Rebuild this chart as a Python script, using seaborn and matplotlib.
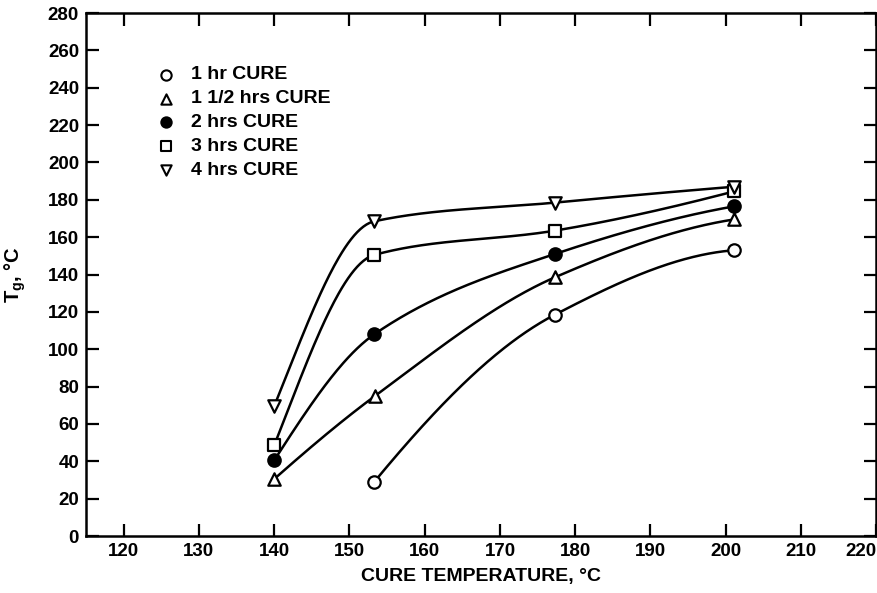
import numpy as np
import seaborn as sns
import matplotlib.pyplot as plt
from matplotlib import font_manager

# =====================================================================
# DATA
# =====================================================================
SERIES = ["1 hr CURE", "1 1/2 hrs CURE", "2 hrs CURE", "3 hrs CURE", "4 hrs CURE"]

temp_1hr = [153.3, 177.3, 201.1]
tg_1hr = [29, 118.5, 153]

temp_15hr = [140, 153.4, 177.3, 201.1]
tg_15hr = [30.5, 75, 138.5, 169.5]

temp_2hr = [140, 153.3, 177.3, 201.1]
tg_2hr = [40.5, 108, 151, 176.5]

temp_3hr = [140, 153.3, 177.3, 201.1]
tg_3hr = [48.5, 150.5, 163.5, 184.5]

temp_4hr = [140, 153.3, 177.3, 201.1]
tg_4hr = [69.5, 168.5, 178.5, 187]

X_TICKS = list(range(120, 221, 10))
Y_TICKS = list(range(0, 281, 20))

# marker style per series: (marker, filled)
MARKERS = [("o", False), ("^", False), ("o", True), ("s", False), ("v", False)]


def smooth_curve(x, y, n=300):
    """Monotone cubic Hermite curve through the points (French-curve look)."""
    x = np.asarray(x, float)
    y = np.asarray(y, float)
    h = np.diff(x)
    d = np.diff(y) / h
    m = np.zeros_like(y)
    for k in range(1, len(x) - 1):
        if d[k - 1] * d[k] <= 0:
            m[k] = 0
        else:
            w1 = 2 * h[k] + h[k - 1]
            w2 = h[k] + 2 * h[k - 1]
            m[k] = (w1 + w2) / (w1 / d[k - 1] + w2 / d[k])

    def end_slope(h0, h1, d0, d1):
        s = ((2 * h0 + h1) * d0 - h0 * d1) / (h0 + h1)
        if np.sign(s) != np.sign(d0):
            return 0.0
        if np.sign(d0) != np.sign(d1) and abs(s) > abs(3 * d0):
            return 3 * d0
        return s

    m[0] = end_slope(h[0], h[1], d[0], d[1])
    m[-1] = end_slope(h[-1], h[-2], d[-1], d[-2])

    xs = np.linspace(x[0], x[-1], n)
    idx = np.clip(np.searchsorted(x, xs) - 1, 0, len(h) - 1)
    t = (xs - x[idx]) / h[idx]
    h00 = 2 * t**3 - 3 * t**2 + 1
    h10 = t**3 - 2 * t**2 + t
    h01 = -2 * t**3 + 3 * t**2
    h11 = t**3 - t**2
    ys = h00 * y[idx] + h10 * h[idx] * m[idx] + h01 * y[idx + 1] + h11 * h[idx] * m[idx + 1]
    return xs, ys


# =====================================================================
# PLOT
# =====================================================================
sns.set_theme(style="ticks")
installed = {f.name for f in font_manager.fontManager.ttflist}
FONT = "Liberation Sans Narrow" if "Liberation Sans Narrow" in installed else "Liberation Sans"
plt.rcParams["font.family"] = [FONT, "DejaVu Sans"]
plt.rcParams["mathtext.fontset"] = "custom"
plt.rcParams["mathtext.rm"] = FONT
plt.rcParams["mathtext.it"] = FONT
plt.rcParams["mathtext.bf"] = FONT + ":bold"
plt.rcParams["text.color"] = "black"
plt.rcParams["axes.labelcolor"] = "black"
plt.rcParams["xtick.color"] = "black"
plt.rcParams["ytick.color"] = "black"

fig = plt.figure(figsize=(8.78, 5.93), dpi=100)
ax = fig.add_axes([0.098, 0.0961, 0.9, 0.8819])

all_x = [temp_1hr, temp_15hr, temp_2hr, temp_3hr, temp_4hr]
all_y = [tg_1hr, tg_15hr, tg_2hr, tg_3hr, tg_4hr]

for xs_, ys_, (mk, filled) in zip(all_x, all_y, MARKERS):
    cx, cy = smooth_curve(xs_, ys_)
    sns.lineplot(x=cx, y=cy, ax=ax, color="black", linewidth=1.8, sort=False,
                 estimator=None, zorder=2)
    ax.scatter(xs_, ys_, marker=mk, s=80, facecolors="black" if filled else "white",
               edgecolors="black", linewidths=1.6, zorder=3)

# hand-made legend in the upper left
leg_y = [247, 234, 221.4, 208.6, 195.7]
for label, ly, (mk, filled) in zip(SERIES, leg_y, MARKERS):
    ax.scatter([125.6], [ly], marker=mk, s=55, facecolors="black" if filled else "white",
               edgecolors="black", linewidths=1.5, zorder=3)
    ax.text(128.9, ly, label, fontsize=14, fontweight="bold", va="center", ha="left")

ax.set_xlim(115, 220)
ax.set_ylim(0, 280)
ax.set_xticks(X_TICKS)
ax.set_yticks(Y_TICKS)
ax.tick_params(direction="in", length=9, width=1.6, top=True, right=True,
               labelsize=13.5, pad=5)
for lab in ax.get_xticklabels() + ax.get_yticklabels():
    lab.set_fontweight("bold")
# last x label sits inside the frame, as in the original
ax.get_xticklabels()[-1].set_horizontalalignment("right")
for sp in ax.spines.values():
    sp.set_linewidth(1.8)
    sp.set_color("black")

ax.set_xlabel("CURE TEMPERATURE, °C", fontsize=14, fontweight="bold", labelpad=6)
ax.set_ylabel(r"T$_\mathbf{g}$, °C", fontsize=14.5, fontweight="bold")
ax.yaxis.set_label_coords(-0.074, 0.5)

fig.savefig("out.png", dpi=100)
plt.close(fig)
